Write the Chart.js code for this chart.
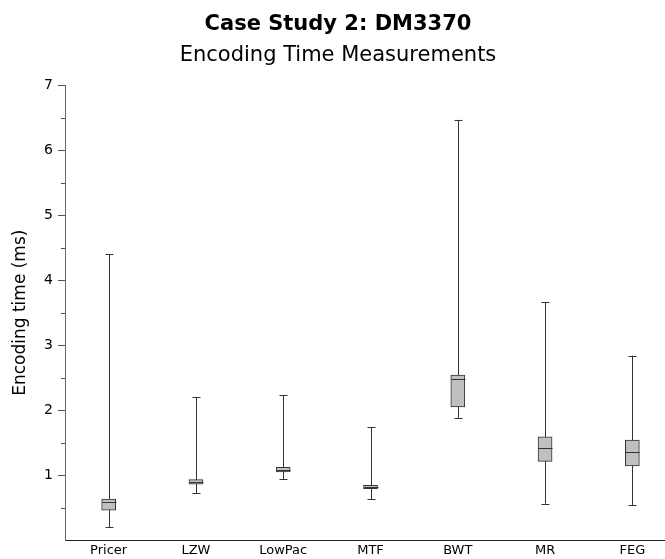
<!DOCTYPE html>
<html>
<head>
<meta charset="utf-8">
<script src="https://cdn.jsdelivr.net/npm/chart.js@4/dist/chart.umd.min.js"></script>
<style>
  body { margin: 0; overflow: hidden; background: #fff; }
</style>
</head>
<body>
<canvas id="encTime" width="676" height="559"></canvas>
<script>
// box plot values (ms)
var labels = ["Pricer", "LZW", "LowPac", "MTF", "BWT", "MR", "FEG"];
var mins    = [0.20, 0.72, 0.94, 0.63, 1.88, 0.56, 0.54];
var q1s     = [0.46, 0.86, 1.05, 0.79, 2.05, 1.21, 1.14];
var medians = [0.58, 0.895, 1.085, 0.81, 2.48, 1.41, 1.36];
var q3s     = [0.63, 0.93, 1.12, 0.84, 2.54, 1.59, 1.54];
var maxs    = [4.40, 2.20, 2.23, 1.74, 6.47, 3.66, 2.84];
var yTicks  = [1, 2, 3, 4, 5, 6, 7];
var yMinor  = [0.5, 1.5, 2.5, 3.5, 4.5, 5.5, 6.5];

var boxes = labels.map(function(l, i) { return [q1s[i], q3s[i]]; });

// whiskers, caps, medians and minor ticks drawn through the scales
var whiskers = {
    id: 'whiskers',
    beforeDatasetsDraw: function(chart) {
        var ctx = chart.ctx, x = chart.scales.x, y = chart.scales.y;
        ctx.save();
        ctx.strokeStyle = '#333';
        ctx.lineWidth = 1;
        labels.forEach(function(l, i) {
            var px = Math.round(x.getPixelForValue(i)) + 0.5;
            ctx.beginPath();
            ctx.moveTo(px, y.getPixelForValue(mins[i]));
            ctx.lineTo(px, y.getPixelForValue(maxs[i]));
            ctx.stroke();
        });
        // minor ticks on the y axis
        ctx.strokeStyle = '#555';
        yMinor.forEach(function(v) {
            var py = Math.round(y.getPixelForValue(v)) + 0.5;
            ctx.beginPath();
            ctx.moveTo(y.right - 4, py);
            ctx.lineTo(y.right, py);
            ctx.stroke();
        });
        ctx.restore();
    },
    afterDatasetsDraw: function(chart) {
        var ctx = chart.ctx, x = chart.scales.x, y = chart.scales.y;
        ctx.save();
        ctx.strokeStyle = '#333';
        ctx.lineWidth = 1;
        labels.forEach(function(l, i) {
            var px = Math.round(x.getPixelForValue(i)) + 0.5;
            [mins[i], maxs[i]].forEach(function(v) {
                var py = Math.round(y.getPixelForValue(v)) + 0.5;
                ctx.beginPath();
                ctx.moveTo(px - 4, py);
                ctx.lineTo(px + 4, py);
                ctx.stroke();
            });
            var pm = Math.round(y.getPixelForValue(medians[i])) + 0.5;
            ctx.beginPath();
            ctx.moveTo(px - 7, pm);
            ctx.lineTo(px + 7, pm);
            ctx.stroke();
        });
        ctx.restore();
    }
};

var ctx = document.getElementById("encTime").getContext("2d");
var chart = new Chart(ctx, {
    type: 'bar',
    data: {
        labels: labels,
        datasets: [{
            data: boxes,
            backgroundColor: '#c0c0c0',
            borderColor: '#333',
            borderWidth: 1,
            borderSkipped: false,
            barThickness: 14
        }]
    },
    plugins: [whiskers],
    options: {
        responsive: false,
        animation: false,
        layout: { padding: 0 },
        plugins: {
            legend: { display: false },
            tooltip: { enabled: false },
            title: {
                display: true,
                text: 'Case Study 2: DM3370',
                color: '#000',
                font: { family: 'DejaVu Sans', size: 21, weight: 'bold' },
                padding: { top: 12, bottom: 2 }
            },
            subtitle: {
                display: true,
                text: 'Encoding Time Measurements',
                color: '#000',
                font: { family: 'DejaVu Sans', size: 21 },
                padding: { top: 4, bottom: 17 }
            }
        },
        scales: {
            x: {
                grid: { display: true, drawOnChartArea: false, drawTicks: false },
                border: { color: '#222' },
                ticks: { color: '#000', padding: 3, font: { family: 'DejaVu Sans', size: 13 } },
                afterFit: function(s) { s.height = 19; }
            },
            y: {
                min: 0,
                max: 7,
                grid: {
                    drawOnChartArea: false,
                    tickLength: 7,
                    tickColor: function(c) { return yTicks.indexOf(c.tick.value) >= 0 ? '#555' : 'rgba(0,0,0,0)'; }
                },
                border: { color: '#666' },
                ticks: {
                    stepSize: 0.5,
                    color: '#000',
                    padding: 5,
                    font: { family: 'DejaVu Sans', size: 14 },
                    callback: function(v) { return yTicks.indexOf(v) >= 0 ? v : ''; }
                },
                title: {
                    display: true,
                    text: 'Encoding time (ms)',
                    color: '#000',
                    font: { family: 'DejaVu Sans', size: 17 },
                    padding: 10
                },
                afterFit: function(s) { s.width = 65; }
            }
        }
    }
});
</script>
</body>
</html>
